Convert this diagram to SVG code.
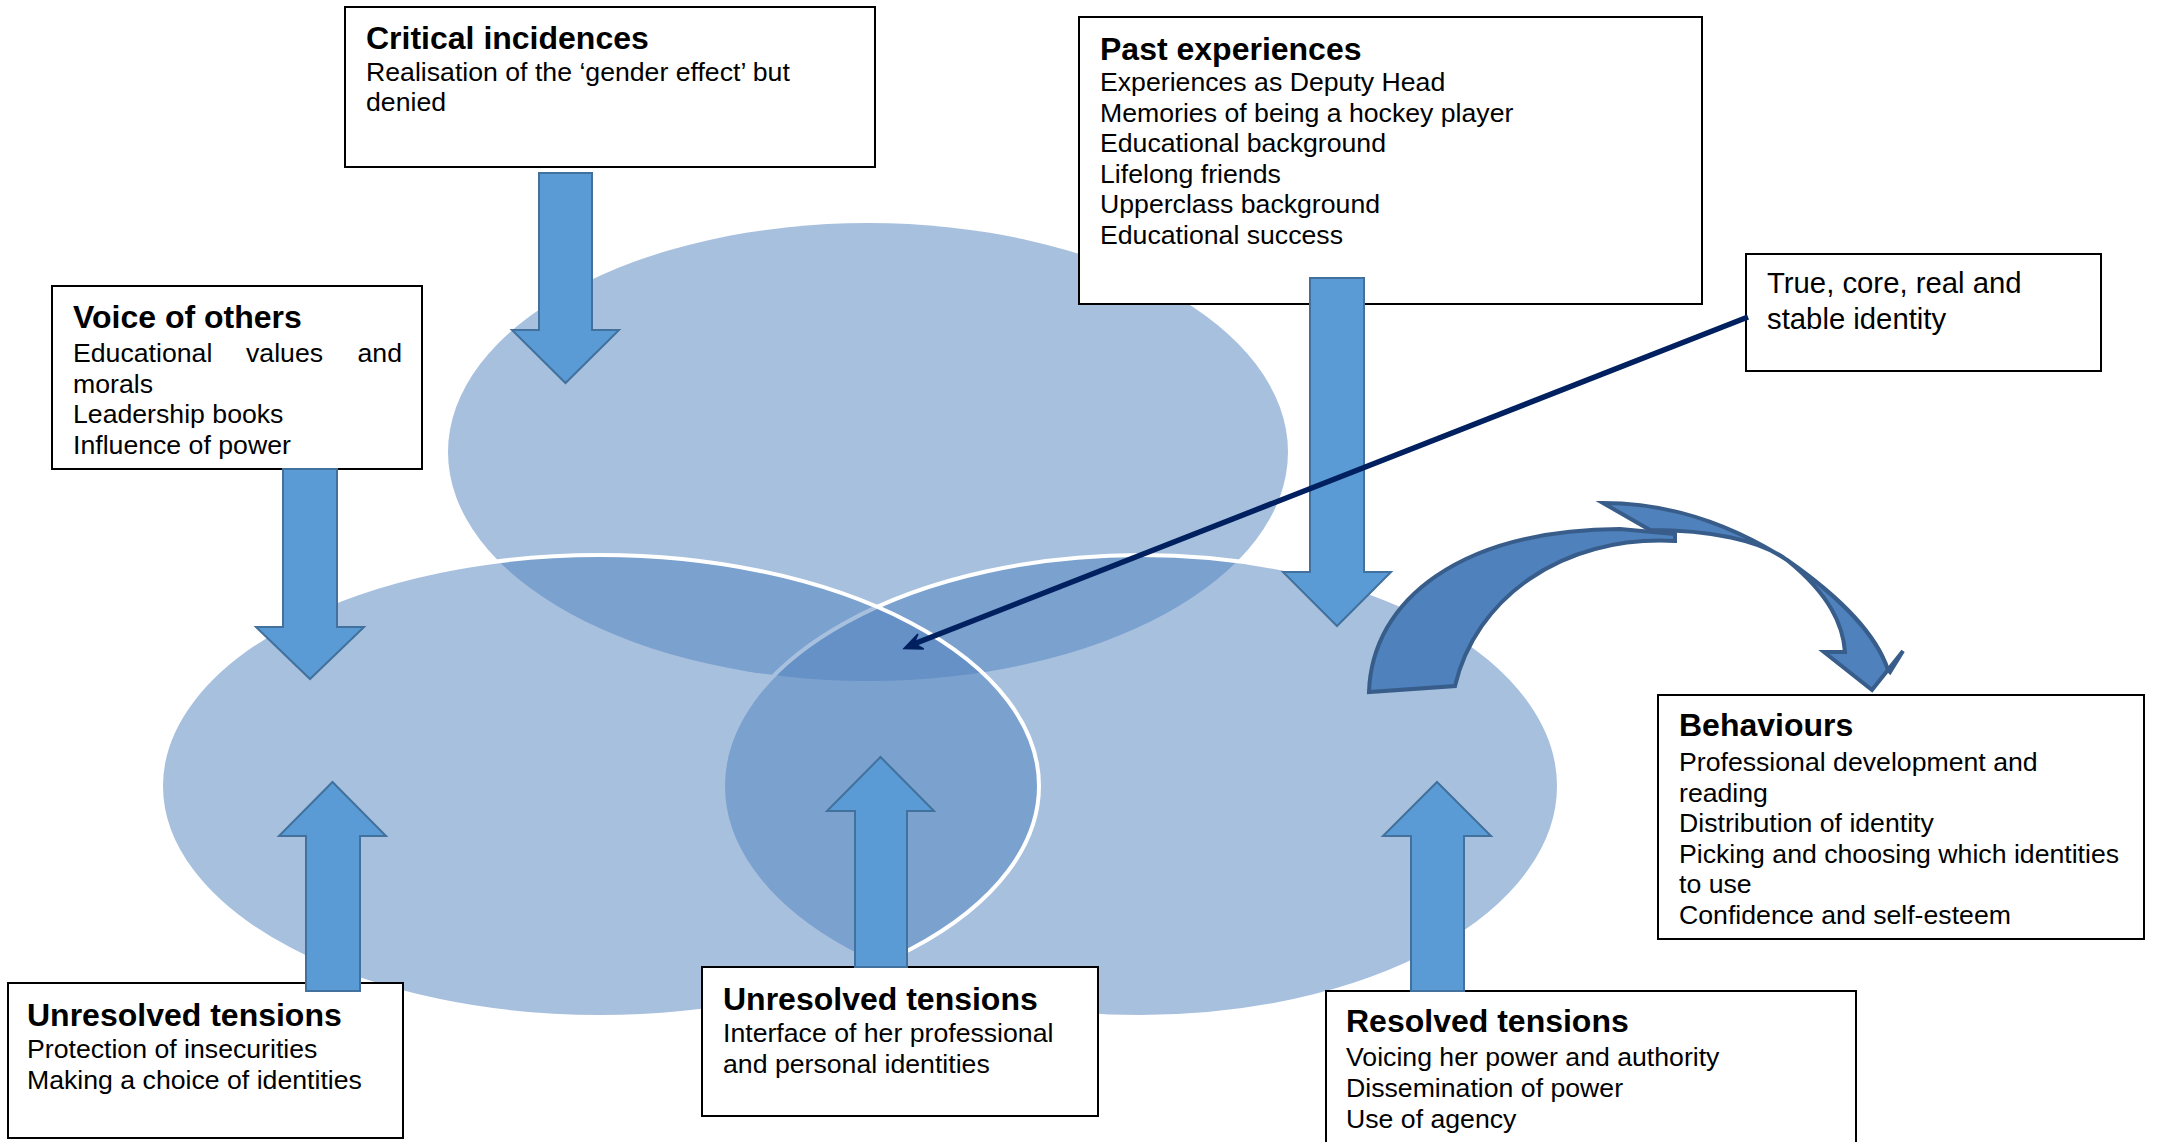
<svg xmlns="http://www.w3.org/2000/svg" width="2163" height="1142" viewBox="0 0 2163 1142">
  <style>
    .box { fill: #ffffff; stroke: #000000; stroke-width: 2; }
    .t { font-family: "Liberation Sans", Arial, sans-serif; font-size: 26.67px; fill: #000000; }
    .h { font-family: "Liberation Sans", Arial, sans-serif; font-size: 32px; font-weight: bold; fill: #000000; }
    .big { font-size: 29.3px; }
    .oval { fill: #4F81BD; fill-opacity: 0.5; }
    .rim { stroke: #ffffff; stroke-width: 4; }
    .block { fill: #5B9BD5; stroke: #41719C; stroke-width: 2; stroke-linejoin: miter; }
    .curve { fill: #4F81BD; stroke: #385D8A; stroke-width: 4; stroke-linejoin: miter; }
    .pointer { stroke: #002060; stroke-width: 5.5; fill: none; }
  </style>

  <!-- three overlapping identity ovals -->
  <g id="venn">
    <ellipse id="oval-top" class="oval" cx="868" cy="452" rx="420" ry="229"/>
    <ellipse id="oval-right" class="oval rim" cx="1141" cy="786" rx="418" ry="231"/>
    <ellipse id="oval-left" class="oval rim" cx="600" cy="786" rx="439" ry="231"/>
  </g>

  <!-- text boxes -->
  <g id="critical-incidences">
    <rect class="box" x="345" y="7" width="530" height="160"/>
    <text class="h" x="366" y="49">Critical incidences</text>
    <text class="t" x="366" y="81">Realisation of the ‘gender effect’ but</text>
    <text class="t" x="366" y="111">denied</text>
  </g>

  <g id="past-experiences">
    <rect class="box" x="1079" y="17" width="623" height="287"/>
    <text class="h" x="1100" y="60">Past experiences</text>
    <text class="t" x="1100" y="91">Experiences as Deputy Head</text>
    <text class="t" x="1100" y="121.5">Memories of being a hockey player</text>
    <text class="t" x="1100" y="152">Educational background</text>
    <text class="t" x="1100" y="182.5">Lifelong friends</text>
    <text class="t" x="1100" y="213">Upperclass background</text>
    <text class="t" x="1100" y="243.5">Educational success</text>
  </g>

  <g id="true-identity">
    <rect class="box" x="1746" y="254" width="355" height="117"/>
    <text class="t big" x="1767" y="293">True, core, real and</text>
    <text class="t big" x="1767" y="329">stable identity</text>
  </g>

  <g id="voice-of-others">
    <rect class="box" x="52" y="286" width="370" height="183"/>
    <text class="h" x="73" y="328">Voice of others</text>
    <text class="t" x="73" y="362">Educational</text>
    <text class="t" x="246" y="362">values</text>
    <text class="t" x="402" y="362" text-anchor="end">and</text>
    <text class="t" x="73" y="392.5">morals</text>
    <text class="t" x="73" y="423">Leadership books</text>
    <text class="t" x="73" y="453.5">Influence of power</text>
  </g>

  <g id="behaviours">
    <rect class="box" x="1658" y="695" width="486" height="244"/>
    <text class="h" x="1679" y="736">Behaviours</text>
    <text class="t" x="1679" y="771">Professional development and</text>
    <text class="t" x="1679" y="801.6">reading</text>
    <text class="t" x="1679" y="832">Distribution of identity</text>
    <text class="t" x="1679" y="862.8">Picking and choosing which identities</text>
    <text class="t" x="1679" y="893.4">to use</text>
    <text class="t" x="1679" y="924">Confidence and self-esteem</text>
  </g>

  <g id="unresolved-left">
    <rect class="box" x="8" y="983" width="395" height="155"/>
    <text class="h" x="27" y="1026">Unresolved tensions</text>
    <text class="t" x="27" y="1058">Protection of insecurities</text>
    <text class="t" x="27" y="1089">Making a choice of identities</text>
  </g>

  <g id="unresolved-middle">
    <rect class="box" x="702" y="967" width="396" height="149"/>
    <text class="h" x="723" y="1010">Unresolved tensions</text>
    <text class="t" x="723" y="1042">Interface of her professional</text>
    <text class="t" x="723" y="1073">and personal identities</text>
  </g>

  <g id="resolved">
    <rect class="box" x="1326" y="991" width="530" height="160"/>
    <text class="h" x="1346" y="1032">Resolved tensions</text>
    <text class="t" x="1346" y="1066">Voicing her power and authority</text>
    <text class="t" x="1346" y="1097">Dissemination of power</text>
    <text class="t" x="1346" y="1128">Use of agency</text>
  </g>

  <!-- connectors -->
  <g id="connectors">
    <!-- downward block arrows -->
    <path class="block" d="M539,173 H592 V330 H619 L565.5,383 L512,330 H539 Z"/>
    <path class="block" d="M283,469 H337 V627 H364 L310,679 L256,627 H283 Z"/>
    <path class="block" d="M1310,278 H1364 V572 H1391 L1337,626 L1283,572 H1310 Z"/>
    <!-- upward block arrows -->
    <path class="block" d="M306,991 V836 H279 L332.5,782 L386,836 H360 V991 Z"/>
    <path class="block" d="M855,967 V811 H827 L880.5,757 L934,811 H907 V967 Z"/>
    <path class="block" d="M1411,991 V836 H1383 L1437,782 L1491,836 H1464 V991 Z"/>

    <!-- curved arrow towards Behaviours: rear ribbon with head, then front band -->
    <path class="curve" d="M1603,503 C1680,503 1740,530 1787,560 C1830,590 1875,630 1888,670 L1890,672 L1903,651 L1872,690 L1824,652 L1845,652 C1843,625 1830,595 1787,560 C1760,540 1710,530 1650,530 Z"/>
    <path class="curve" d="M1369,692 C1372,600 1460,530 1620,529 L1675,534 L1675,541 C1560,535 1475,600 1455,686 Z"/>

    <!-- pointer from the identity label into the centre -->
    <line class="pointer" x1="1748" y1="317" x2="915" y2="643.5"/>
    <path d="M904,648.5 L917.9,634 L914,643.5 L923.7,649 Z" fill="#002060" stroke="#002060" stroke-width="1.5" stroke-linejoin="miter"/>
  </g>
</svg>
